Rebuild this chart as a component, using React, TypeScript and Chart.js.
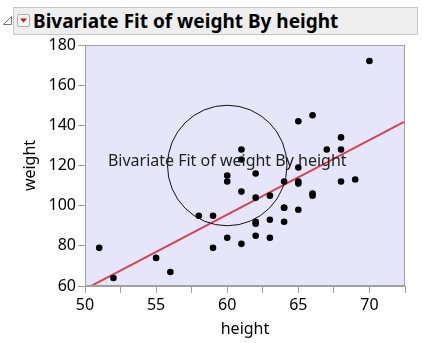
import React, { useEffect, useRef } from "react";
import { Chart, registerables } from "chart.js";

Chart.register(...registerables);

const heights = [59, 61, 55, 66, 52, 60, 61, 51, 60, 61, 56, 65, 63, 58, 59, 61, 62, 65, 63, 62, 63, 64, 65, 64, 68, 64, 69, 62, 64, 67, 65, 66, 62, 66, 65, 60, 68, 62, 68, 70];
const weights = [95, 123, 74, 145, 64, 84, 128, 79, 112, 107, 67, 98, 105, 95, 79, 81, 91, 142, 84, 85, 93, 99, 119, 92, 112, 99, 113, 92, 112, 128, 111, 105, 104, 106, 112, 115, 128, 116, 134, 172];

const fitHeights = [50, 72.5];
const fitWeights = [58.42, 141.93];

const annotationCenter = [60, 120];
const annotationRadii = [4.2, 30];
const annotationText = "Bivariate Fit of weight By height";
const titleText = "Bivariate Fit of weight By height";

const xTicks = [50, 55, 60, 65, 70];
const yTicks = [60, 80, 100, 120, 140, 160, 180];

const FONT = "'Noto Sans', sans-serif";

const plotDecor = {
  id: "plotDecor",
  beforeDatasetsDraw(chart: any) {
    const { ctx, chartArea: a } = chart;
    ctx.save();
    ctx.fillStyle = "#E6E6FA";
    ctx.fillRect(a.left, a.top, a.right - a.left, a.bottom - a.top);
    ctx.restore();
  },
  afterDatasetsDraw(chart: any) {
    const { ctx, chartArea: a, scales } = chart;
    const x = scales.x, y = scales.y;
    ctx.save();
    ctx.beginPath();
    ctx.rect(a.left, a.top, a.right - a.left, a.bottom - a.top);
    ctx.clip();
    const cx = x.getPixelForValue(annotationCenter[0]);
    const cy = y.getPixelForValue(annotationCenter[1]);
    const rx = Math.abs(x.getPixelForValue(annotationCenter[0] + annotationRadii[0]) - cx);
    const ry = Math.abs(y.getPixelForValue(annotationCenter[1] + annotationRadii[1]) - cy);
    ctx.beginPath();
    ctx.ellipse(cx, cy, rx, ry, 0, 0, Math.PI * 2);
    ctx.strokeStyle = "#111";
    ctx.lineWidth = 1;
    ctx.stroke();
    ctx.restore();
    ctx.save();
    ctx.font = `16px ${FONT}`;
    ctx.fillStyle = "#222";
    ctx.textAlign = "center";
    ctx.textBaseline = "alphabetic";
    ctx.fillText(annotationText, cx, cy + 0.5);
    ctx.restore();
    ctx.save();
    ctx.strokeStyle = "#A0A0A0";
    ctx.lineWidth = 1;
    ctx.strokeRect(a.left + 0.5, a.top + 0.5, a.right - a.left - 1, a.bottom - a.top - 1);
    ctx.restore();
  },
};

export default function App() {
  const ref = useRef<HTMLCanvasElement>(null);
  useEffect(() => {
    if (!ref.current) return;
    const chart = new Chart(ref.current, {
      type: "scatter",
      data: {
        datasets: [
          {
            label: "weight",
            data: heights.map((h, i) => ({ x: h, y: weights[i] })),
            backgroundColor: "#000",
            borderWidth: 0,
            pointRadius: 3.3,
            order: 0,
          },
          {
            type: "line",
            label: "fit",
            data: fitHeights.map((h, i) => ({ x: h, y: fitWeights[i] })),
            borderColor: "#D9434F",
            borderWidth: 2,
            pointRadius: 0,
            showLine: true,
            order: 1,
          } as any,
        ],
      },
      options: {
        animation: false,
        responsive: false,
        maintainAspectRatio: false,
        layout: { padding: { top: 45, right: 18, left: 0, bottom: 0 } },
        plugins: { legend: { display: false }, tooltip: { enabled: false } },
        scales: {
          x: {
            type: "linear",
            min: 50,
            max: 72.5,
            afterBuildTicks: (s: any) => {
              const t: any[] = [];
              for (let i = 0; i <= 9; i++) t.push({ value: 50 + i * 2.5 });
              s.ticks = t;
            },
            ticks: {
              color: "#000",
              font: { family: FONT, size: 16 },
              padding: 3,
              maxRotation: 0,
              autoSkip: false,
              callback: (v: any) => (xTicks.includes(Number(v)) ? String(v) : ""),
            },
            grid: { drawOnChartArea: false, tickLength: 7, color: "#A0A0A0" },
            border: { color: "#A0A0A0" },
            title: { display: true, text: "height", color: "#000", font: { family: FONT, size: 16 }, padding: { top: 4, bottom: 4 } },
            afterFit: (s: any) => { s.height = 57; },
          },
          y: {
            type: "linear",
            min: 60,
            max: 180,
            afterBuildTicks: (s: any) => { s.ticks = yTicks.map((v) => ({ value: v })); },
            ticks: { color: "#000", font: { family: FONT, size: 16 }, padding: 2 },
            grid: { drawOnChartArea: false, tickLength: 7, color: "#A0A0A0" },
            border: { color: "#A0A0A0" },
            title: { display: true, text: "weight", color: "#000", font: { family: FONT, size: 16 }, padding: { top: 21, bottom: 4 } },
            afterFit: (s: any) => { s.width = 85; },
          },
        },
      },
      plugins: [plotDecor],
    });
    return () => chart.destroy();
  }, []);

  return (
    <div style={{ position: "fixed", left: 0, top: 0, width: 423, height: 343, background: "#fff", overflow: "hidden" }}>
      <canvas ref={ref} width={423} height={343} style={{ position: "absolute", left: 0, top: 0, width: 423, height: 343 }} />
      <svg width={12} height={12} style={{ position: "absolute", left: 2, top: 15 }}>
        <path d="M1.5 9.5 L9.5 1.5 L9.5 9.5 Z" fill="#fff" stroke="#777" strokeWidth={1} />
      </svg>
      <div style={{ position: "absolute", left: 13, top: 7, width: 403, height: 26, background: "#EEEEEE", border: "1px solid #C6C6C6" }} />
      <div style={{ position: "absolute", left: 17, top: 14, width: 13, height: 13, background: "#F4F4F4", border: "1px solid #B0B0B0", borderRadius: 2, boxSizing: "border-box" }}>
        <svg width={11} height={11} style={{ position: "absolute", left: 0, top: 0 }}>
          <path d="M2 3.5 L9 3.5 L5.5 7.5 Z" fill="#D0101C" />
        </svg>
      </div>
      <div style={{ position: "absolute", left: 33, top: 7, height: 28, lineHeight: "28px", fontFamily: FONT, fontWeight: 700, fontSize: 19, color: "#000", whiteSpace: "nowrap" }}>
        {titleText}
      </div>
    </div>
  );
}
